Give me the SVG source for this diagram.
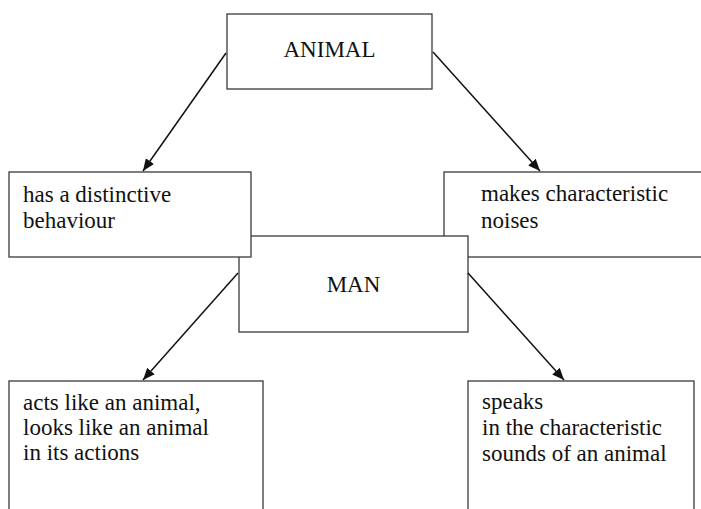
<svg xmlns="http://www.w3.org/2000/svg" width="701" height="509" viewBox="0 0 701 509">
<style>
.box{fill:#fff;stroke:#3a3a3a;stroke-width:1.3}
.t{font-family:"Liberation Serif","Noto Serif","DejaVu Serif",serif;font-size:23px;fill:#111}
.c{text-anchor:middle}
.edge{stroke:#111;stroke-width:1.5;fill:none;marker-end:url(#ah)}
</style>
<defs>
<marker id="ah" viewBox="0 0 12 10" refX="12" refY="5" markerWidth="12" markerHeight="10" markerUnits="userSpaceOnUse" orient="auto">
<path d="M0,0 L12,5 L0,10 Z" fill="#111"/>
</marker>
</defs>
<rect width="701" height="509" fill="#fff"/>
<g id="animal">
<rect class="box" x="227" y="14" width="205" height="75"/>
<text class="t c" x="329.5" y="57">ANIMAL</text>
</g>
<g id="makes">
<rect class="box" x="444" y="172" width="270" height="85"/>
<text class="t" x="481" y="201">makes characteristic</text>
<text class="t" x="481" y="228">noises</text>
</g>
<g id="man">
<rect class="box" x="239" y="236" width="229" height="96"/>
<text class="t c" x="353.5" y="292">MAN</text>
</g>
<g id="has">
<rect class="box" x="9" y="172" width="242" height="85"/>
<text class="t" x="23" y="202">has a distinctive</text>
<text class="t" x="23" y="228">behaviour</text>
</g>
<g id="acts">
<rect class="box" x="9" y="381" width="254" height="140"/>
<text class="t" x="23" y="410">acts like an animal,</text>
<text class="t" x="23" y="435">looks like an animal</text>
<text class="t" x="23" y="460">in its actions</text>
</g>
<g id="speaks">
<rect class="box" x="468" y="381" width="226" height="140"/>
<text class="t" x="482" y="409">speaks</text>
<text class="t" x="482" y="435">in the characteristic</text>
<text class="t" x="482" y="461">sounds of an animal</text>
</g>
<g id="connectors">
<line class="edge" x1="226" y1="53" x2="143" y2="171"/>
<line class="edge" x1="433" y1="52" x2="540" y2="171"/>
<line class="edge" x1="238" y1="273" x2="143" y2="380"/>
<line class="edge" x1="468" y1="273" x2="564" y2="380"/>
</g>
</svg>
